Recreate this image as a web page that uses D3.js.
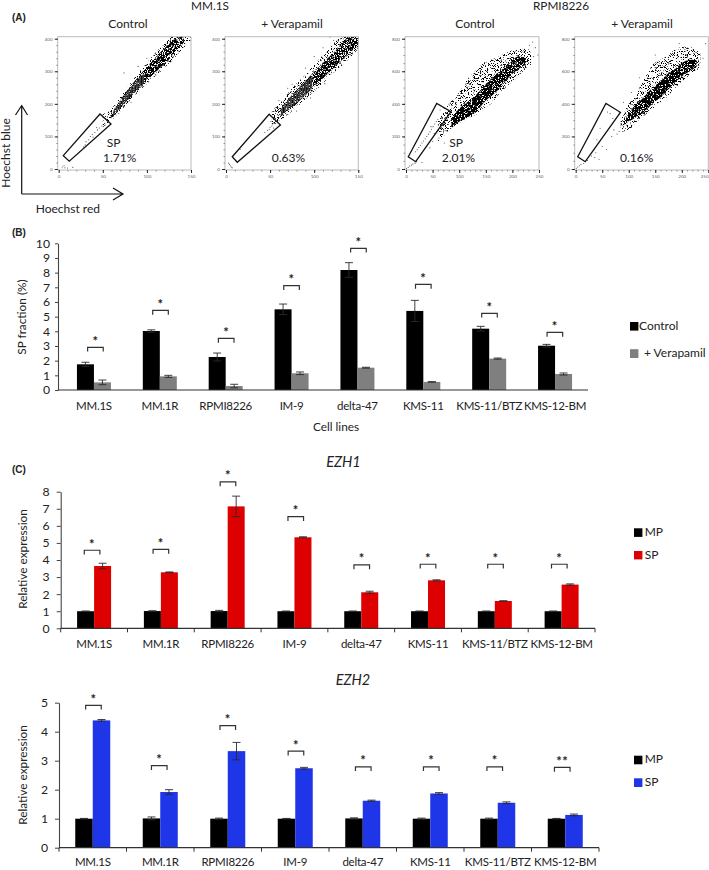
<!DOCTYPE html>
<html>
<head>
<meta charset="utf-8">
<script src="https://cdn.jsdelivr.net/npm/d3@7"></script>
<style>
  html, body { margin: 0; padding: 0; background: #fff; }
  svg { display: block; }
  text { font-family: Lato, "Open Sans", sans-serif; fill: #222; }
</style>
</head>
<body>
<svg id="chart" width="709" height="870"></svg>
<script>
const cellLines = ["MM.1S", "MM.1R", "RPMI8226", "IM-9", "delta-47", "KMS-11", "KMS-11/BTZ", "KMS-12-BM"];

// (B) SP fraction
const fractionControl    = [1.75, 4.02, 2.25, 5.5, 8.18, 5.39, 4.18, 3.02];
const fractionControlErr = [0.14, 0.08, 0.27, 0.36, 0.5, 0.72, 0.16, 0.09];
const fractionVera       = [0.52, 0.93, 0.27, 1.14, 1.52, 0.55, 2.14, 1.09];
const fractionVeraErr    = [0.16, 0.07, 0.12, 0.09, 0.03, 0.02, 0.04, 0.07];
const fractionBrackets   = [2.91, 5.43, 3.52, 7.11, 9.66, 7.2, 5.23, 3.93];
const fractionStars      = ["*", "*", "*", "*", "*", "*", "*", "*"];

// (C) EZH1
const ezh1Mp       = [1, 1.01, 1.01, 1, 1, 1, 1, 1];
const ezh1MpErr    = [0.01, 0.02, 0.04, 0.01, 0.01, 0.01, 0.01, 0.01];
const ezh1Sp       = [3.65, 3.28, 7.14, 5.33, 2.11, 2.81, 1.6, 2.56];
const ezh1SpErr    = [0.16, 0.02, 0.6, 0.03, 0.06, 0.03, 0.01, 0.04];
const ezh1Brackets = [4.57, 4.62, 8.57, 6.54, 3.71, 3.75, 3.75, 3.75];
const ezh1Stars    = ["*", "*", "*", "*", "*", "*", "*", "*"];

// EZH2
const ezh2Mp       = [1, 1.01, 1, 1, 1.01, 1, 1, 1];
const ezh2MpErr    = [0.01, 0.05, 0.02, 0.01, 0.02, 0.02, 0.02, 0.01];
const ezh2Sp       = [4.39, 1.92, 3.33, 2.74, 1.62, 1.87, 1.55, 1.13];
const ezh2SpErr    = [0.03, 0.08, 0.3, 0.03, 0.02, 0.03, 0.03, 0.03];
const ezh2Brackets = [4.91, 2.83, 4.21, 3.33, 2.79, 2.79, 2.79, 2.77];
const ezh2Stars    = ["*", "*", "*", "*", "*", "*", "*", "**"];

// (A) flow cytometry panels: cloud outlines as [x, low, high], gates and stray events
const mmXTicks = [0, 50, 100, 150];
const mmYTicks = [0, 100, 200, 300, 400];
const rpmiXTicks = [0, 50, 100, 150, 200, 250];
const rpmiYTicks = [0, 200, 400, 600, 800];

const mmCtrlCloud = [[50,128,168],[60,150,186],[70,178,222],[85,222,276],[100,262,326],[115,298,372],[130,336,412],[142,372,430],[151,400,440]];
const mmCtrlCore  = [[60,155,172],[70,186,212],[85,232,266],[100,272,314],[115,310,358],[130,350,396],[142,388,425]];
const mmCtrlBars  = [[60,157,170],[70,188,208],[85,234,262],[98,268,296]];
const mmCtrlGate  = [[5.2,41],[46.8,169],[59.3,138],[12,24]];
const mmCtrlDots  = [[4,6],[7,4],[10,3],[6,10],[16,5],[28,68],[30,74],[34,90],[36,100],[38,106],[41,112],[44,120],[46,126],[49,132],[52,140],[31,84],[39,98],[43,128],[55,148],[74,295],[78,240],[90,315],[68,170],[82,205],[95,255],[110,290],[124,330],[136,362],[100,340],[126,392],[75,205],[88,232]];

const mmVeraCloud = [[52,136,178],[62,150,205],[75,178,248],[90,214,290],[105,250,335],[120,290,378],[135,326,425],[151,372,440]];
const mmVeraCore  = [[62,160,186],[75,190,228],[90,226,270],[105,266,312],[120,304,352],[135,344,396],[151,380,420]];
const mmVeraBars  = [[62,162,184],[75,192,226],[88,222,264],[98,248,284]];
const mmVeraGate  = [[7.1,37.7],[48.9,167.9],[61.7,135],[12.8,20.6]];
const mmVeraDots  = [[4,14],[5,10],[6,6],[7,4],[3,18],[16,60],[50,128],[52,132],[53,138],[49,122],[47,118],[44,112],[54,126],[56,140],[51,146],[58,190],[70,248],[75,260],[60,210],[118,405],[122,395],[110,372],[100,345],[90,310],[130,400],[80,178],[96,218],[112,262],[128,312],[141,352],[142,410]];

const rpmiCtrlCloud = [[60,170,300],[70,200,350],[85,250,420],[100,280,470],[115,310,550],[130,330,600],[145,370,650],[160,400,670],[175,460,690],[190,510,715],[205,550,735],[220,600,740],[235,640,730]];
const rpmiCtrlCore  = [[85,250,300],[100,290,370],[115,315,410],[130,345,450],[150,420,520],[165,460,570],[180,510,610],[195,570,650],[210,610,690],[225,640,680]];
const rpmiCtrlGate  = [[4.3,75.5],[57.7,403],[84.6,352],[18.2,45]];
const rpmiCtrlDots  = [[1,2],[4,10],[7,18],[10,24],[13,30],[17,36],[20,44],[18,106],[21,118],[24,132],[27,146],[30,160],[33,172],[36,186],[39,200],[42,214],[45,228],[48,244],[51,260],[54,276],[57,292],[60,305],[47,260],[53,218],[64,362],[72,372],[238,780],[243,745],[248,700],[240,690],[232,760],[30,40],[45,130],[62,190],[72,160],[50,170]];

const rpmiVeraCloud = [[85,230,300],[100,240,400],[115,290,470],[130,330,560],[145,370,640],[160,410,670],[175,450,700],[190,500,740],[205,550,750],[220,590,745],[235,620,710]];
const rpmiVeraCore  = [[95,280,315],[110,310,385],[125,340,430],[145,400,500],[160,440,540],[175,490,590],[190,540,620],[205,580,660],[220,610,670],[228,630,660]];
const rpmiVeraGate  = [[3.8,75.5],[57,403],[84.3,348],[18,45]];
const rpmiVeraDots  = [[1,4],[4,12],[7,20],[10,28],[15,35],[22,52],[30,80],[38,100],[40,180],[46,250],[60,350],[65,340],[70,310],[72,240],[68,200],[78,215],[50,140],[58,120],[85,270],[82,350],[90,410],[105,470],[120,560],[150,700],[195,770],[245,770],[240,680],[36,70],[44,60],[82,230]];

const svg = d3.select("#chart");

const defs = svg.append("defs");

// grain for the event clouds, so a filled outline reads as scattered events
function grainFilter(id, seed, cut) {
  const f = defs.append("filter").attr("id", id)
    .attr("x", 0).attr("y", 0).attr("width", 1).attr("height", 1)
    .attr("color-interpolation-filters", "sRGB");
  f.append("feTurbulence")
    .attr("type", "fractalNoise").attr("baseFrequency", 1.3)
    .attr("numOctaves", 1).attr("seed", seed).attr("result", "n");
  f.append("feColorMatrix").attr("in", "n").attr("type", "matrix").attr("result", "g")
    .attr("values", `0 0 0 0 0 0 0 0 0 0 0 0 0 0 0 0 0 0 14 ${-14 * cut}`);
  f.append("feComposite").attr("in", "g").attr("in2", "SourceGraphic").attr("operator", "in");
}
grainFilter("grainSparse", 3, 0.55);
grainFilter("grainDense", 8, 0.44);
grainFilter("grainDark", 5, 0.39);

// the MM.1S events fall on discrete channels, hence the vertical stripes
defs.append("pattern").attr("id", "stripes")
    .attr("width", 2.9).attr("height", 4).attr("patternUnits", "userSpaceOnUse")
  .append("rect").attr("width", 1.7).attr("height", 4).attr("fill", "#444");

function drawFlowPanel(o) {
  const x = d3.scaleLinear().domain(o.xDomain).range(o.xRange);
  const y = d3.scaleLinear().domain(o.yDomain).range([169, 38.7]);
  const g = svg.append("g");

  const clipId = "clip" + o.id;
  defs.append("clipPath").attr("id", clipId)
    .append("rect").attr("x", o.xRange[0] - 1).attr("y", 36.7)
    .attr("width", o.xRange[1] - o.xRange[0] + 1).attr("height", 133);

  const area = d3.area().x(d => x(d[0])).y0(d => y(d[1])).y1(d => y(d[2])).curve(d3.curveCatmullRom);
  const clouds = g.append("g").attr("clip-path", `url(#${clipId})`);

  clouds.append("path").datum(o.cloud).attr("d", area).attr("fill", "#333").attr("filter", "url(#grainSparse)");
  clouds.append("path").datum(o.core).attr("d", area).attr("fill", "#111").attr("filter", `url(#${o.coreGrain})`);
  if (o.bars) {
    clouds.append("path").datum(o.bars).attr("d", area).attr("fill", "url(#stripes)");
  }
  clouds.selectAll("circle").data(o.dots).join("circle")
      .attr("cx", d => x(d[0])).attr("cy", d => y(d[1])).attr("r", 0.55)
      .attr("fill", "#444");

  // frame: grey on top and right
  g.append("path")
      .attr("d", `M${o.xRange[0] - 1},36.7H${o.xRange[1]}V170H${o.xRange[0] - 1}V36.7`)
      .attr("fill", "none").attr("stroke", "#aaa").attr("stroke-width", 0.8);

  const minorX = d3.axisBottom(x).ticks(o.xTicks.length * 5).tickSize(1.5).tickFormat("");
  const minorY = d3.axisLeft(y).ticks(20).tickSize(1.5).tickFormat("");
  g.append("g").attr("transform", "translate(0,170)").call(minorX).call(a => a.select(".domain").remove())
    .selectAll("line").attr("stroke", "#555").attr("stroke-width", 0.6);
  g.append("g").attr("transform", `translate(${o.xRange[0] - 1},0)`).call(minorY).call(a => a.select(".domain").remove())
    .selectAll("line").attr("stroke", "#555").attr("stroke-width", 0.6);

  const xAxis = d3.axisBottom(x).tickValues(o.xTicks).tickSize(3).tickPadding(2);
  const yAxis = d3.axisLeft(y).tickValues(o.yTicks).tickSize(3).tickPadding(2);
  for (const a of [
    g.append("g").attr("transform", "translate(0,170)").call(xAxis),
    g.append("g").attr("transform", `translate(${o.xRange[0] - 1},0)`).call(yAxis)
  ]) {
    a.select(".domain").remove();
    a.selectAll("line").attr("stroke", "#111").attr("stroke-width", 0.9);
    a.selectAll("text").attr("font-size", 4.6).style("fill", "#666").style("font-family", "Lato");
  }
  // the last label of the rightmost panel stays inside the page
  g.selectAll("g.tick text").filter(d => x(d) > 705).attr("text-anchor", "end");

  // gate polygon
  g.append("path").datum(o.gate)
      .attr("d", d3.line().x(d => x(d[0])).y(d => y(d[1])).curve(d3.curveLinearClosed))
      .attr("fill", "none").attr("stroke", "#111").attr("stroke-width", 1.3);
}

drawFlowPanel({ id: "a", xDomain: [0, 150], xRange: [58.7, 191], yDomain: [0, 400], xTicks: mmXTicks, yTicks: mmYTicks,
  cloud: mmCtrlCloud, core: mmCtrlCore, bars: mmCtrlBars, gate: mmCtrlGate, dots: mmCtrlDots, coreGrain: "grainDense" });
drawFlowPanel({ id: "b", xDomain: [0, 150], xRange: [226, 358.3], yDomain: [0, 400], xTicks: mmXTicks, yTicks: mmYTicks,
  cloud: mmVeraCloud, core: mmVeraCore, bars: mmVeraBars, gate: mmVeraGate, dots: mmVeraDots, coreGrain: "grainDense" });
drawFlowPanel({ id: "c", xDomain: [0, 250], xRange: [406, 539], yDomain: [0, 800], xTicks: rpmiXTicks, yTicks: rpmiYTicks,
  cloud: rpmiCtrlCloud, core: rpmiCtrlCore, gate: rpmiCtrlGate, dots: rpmiCtrlDots, coreGrain: "grainDark" });
drawFlowPanel({ id: "d", xDomain: [0, 250], xRange: [575.7, 708.3], yDomain: [0, 800], xTicks: rpmiXTicks, yTicks: rpmiYTicks,
  cloud: rpmiVeraCloud, core: rpmiVeraCore, gate: rpmiVeraGate, dots: rpmiVeraDots, coreGrain: "grainDark" });

function label(x, y, s, size, anchor, extra) {
  const t = svg.append("text").attr("x", x).attr("y", y).text(s)
    .attr("font-size", size).attr("text-anchor", anchor || "start");
  if (extra) extra(t);
  return t;
}
const panelTag = t => t.style("font-family", '"Liberation Sans", Arial, sans-serif').attr("font-weight", "bold");

label(12, 20.7, "(A)", 10, "start", panelTag);
label(12, 236, "(B)", 10, "start", panelTag);
label(12, 473, "(C)", 10, "start", panelTag);

label(210, 9.5, "MM.1S", 11.8, "middle");
label(561, 9.5, "RPMI8226", 11.8, "middle");
label(128, 28, "Control", 12, "middle");
label(292, 28, "+ Verapamil", 12, "middle");
label(475, 28, "Control", 12, "middle");
label(642, 28, "+ Verapamil", 12, "middle");

label(106.7, 147.3, "SP", 12);
label(103, 161.7, "1.71%", 12);
label(271.7, 161.7, "0.63%", 12);
label(449.3, 147.3, "SP", 12);
label(441.7, 161.7, "2.01%", 12);
label(620, 161.7, "0.16%", 12);

// Hoechst arrows
const arrows = "M21.7,194V106M15.5,115L21.7,105.5L27.5,115M21.7,194H122M113,188L123,194L113,200";
svg.append("path").attr("d", arrows).attr("fill", "none").attr("stroke", "#111").attr("stroke-width", 1.2);
label(35.7, 212.7, "Hoechst  red", 12);
label(0, 0, "Hoechst blue", 12, "middle", t => t.attr("transform", "translate(9.5,153) rotate(-90)"));

function drawBars(o) {
  const x = d3.scaleBand().domain(cellLines).range(o.xRange);
  const y = d3.scaleLinear().domain(o.yDomain).range(o.yRange);
  const half = o.barWidth;
  const center = d => x(d) + x.bandwidth() / 2;
  const g = svg.append("g");

  // paired bars, touching at the category centre
  const series = [
    { values: o.a, errs: o.aErr, color: o.aColor, dx: -half },
    { values: o.b, errs: o.bErr, color: o.bColor, dx: 0 }
  ];
  series.forEach(s => {
    const row = g.append("g");
    row.selectAll("rect").data(cellLines).join("rect")
        .attr("x", d => center(d) + s.dx)
        .attr("y", (d, i) => y(s.values[i]))
        .attr("width", half)
        .attr("height", (d, i) => y(0) - y(s.values[i]))
        .attr("fill", s.color);
    const mid = d => center(d) + s.dx + half / 2;
    row.selectAll("path").data(cellLines).join("path")
        .attr("d", (d, i) => {
          const hi = y(s.values[i] + s.errs[i]);
          const lo = y(s.values[i] - s.errs[i]);
          const c = mid(d);
          return `M${c - 4},${hi}H${c + 4}M${c},${hi}V${lo}M${c - 4},${lo}H${c + 4}`;
        })
        .attr("fill", "none").attr("stroke", "#2a2a2a").attr("stroke-width", 0.9);
  });

  // significance brackets
  g.selectAll("path.bracket").data(cellLines).join("path").attr("class", "bracket")
      .attr("d", (d, i) => {
        const c = center(d) + o.shift[i];
        const t = y(o.brackets[i]);
        return `M${c - 7.8},${t + 4.3}V${t}H${c + 7.8}V${t + 4.3}`;
      })
      .attr("fill", "none").attr("stroke", "#333").attr("stroke-width", 1.2);
  g.selectAll("text.star").data(cellLines).join("text").attr("class", "star")
      .attr("x", (d, i) => center(d) + o.shift[i])
      .attr("y", (d, i) => y(o.brackets[i]) - 1.5)
      .attr("text-anchor", "middle").attr("font-size", 13)
      .attr("font-weight", "bold")
      .style("letter-spacing", "0.5px")
      .text((d, i) => o.stars[i]);

  // axes
  const yAxis = g.append("g").attr("transform", `translate(${o.axisLeft},0)`)
    .call(d3.axisLeft(y).ticks(o.yDomain[1]).tickSize(o.tick).tickPadding(o.tickPad).tickSizeOuter(0));
  yAxis.select(".domain").attr("stroke", "#444").attr("stroke-width", 1.1);
  yAxis.selectAll("line").attr("stroke", "#444");
  yAxis.selectAll("text").attr("font-size", 12.2).style("font-family", "Lato");

  const xAxis = g.append("g").attr("transform", `translate(0,${y(0)})`)
    .call(d3.axisBottom(x).tickSize(0).tickPadding(o.labelPad));
  xAxis.select(".domain").remove();
  xAxis.selectAll("text").attr("font-size", 11.5).style("font-family", "Lato").style("letter-spacing", "-0.25px");

  g.append("line").attr("x1", o.axisLeft).attr("x2", o.xRange[1])
      .attr("y1", y(0)).attr("y2", y(0)).attr("stroke", "#333").attr("stroke-width", 1.2);

  if (o.edgeTicks) {
    g.selectAll("line.edge").data(d3.range(cellLines.length + 1)).join("line").attr("class", "edge")
        .attr("x1", i => o.xRange[0] + i * x.step()).attr("x2", i => o.xRange[0] + i * x.step())
        .attr("y1", y(0)).attr("y2", y(0) + 4)
        .attr("stroke", "#333").attr("stroke-width", 1);
  }

  label(0, 0, o.yLabel, 11.8, "middle", t => t.attr("transform", `translate(${o.yLabelX},${o.yLabelY}) rotate(-90)`));
}

function legendRow(x, y, h, color, textX, textY, s) {
  svg.append("rect").attr("x", x).attr("y", y).attr("width", 8.4).attr("height", h).attr("fill", color);
  label(textX, textY, s, 12);
}

drawBars({
  xRange: [61, 588], yDomain: [0, 10], yRange: [390, 243.3], axisLeft: 58, barWidth: 17,
  a: fractionControl, aErr: fractionControlErr, aColor: "#000",
  b: fractionVera, bErr: fractionVeraErr, bColor: "#7f7f7f",
  brackets: fractionBrackets, stars: fractionStars, shift: [1.5, 0.7, 0.5, 0, 1, 0, 0.3, -0.2],
  tick: 3, tickPad: 5, labelPad: 12, edgeTicks: false,
  yLabel: "SP fraction (%)", yLabelX: 26, yLabelY: 317
});
label(336, 431, "Cell lines", 11.8, "middle");
legendRow(630, 322, 8.6, "#000", 639, 329.5, "Control");
legendRow(630, 349.2, 8.8, "#7f7f7f", 644, 357, "+ Verapamil");

label(343.5, 467, "EZH1", 14.5, "middle", t => t.attr("font-style", "italic"));
drawBars({
  xRange: [60.7, 595], yDomain: [0, 8], yRange: [628.3, 491.7], axisLeft: 60.7, barWidth: 17,
  a: ezh1Mp, aErr: ezh1MpErr, aColor: "#000",
  b: ezh1Sp, bErr: ezh1SpErr, bColor: "#dc0000",
  brackets: ezh1Brackets, stars: ezh1Stars, shift: [-2, 0, 0.3, 1.3, 0.5, 0, 0.7, -2.3],
  tick: 4, tickPad: 7, labelPad: 12, edgeTicks: true,
  yLabel: "Relative expression", yLabelX: 26.5, yLabelY: 559
});
legendRow(634, 528.3, 8.6, "#000", 644.7, 536, "MP");
legendRow(634, 551, 8.4, "#dc0000", 644.7, 558.7, "SP");

label(353, 685, "EZH2", 14.5, "middle", t => t.attr("font-style", "italic"));
drawBars({
  xRange: [59, 599], yDomain: [0, 5], yRange: [847.7, 702.7], axisLeft: 59, barWidth: 17.5,
  a: ezh2Mp, aErr: ezh2MpErr, aColor: "#000",
  b: ezh2Sp, bErr: ezh2SpErr, bColor: "#1f35e8",
  brackets: ezh2Brackets, stars: ezh2Stars, shift: [0.7, -1, 0, 0.7, 0.5, 1, -3, -3],
  tick: 4, tickPad: 7, labelPad: 10, edgeTicks: true,
  yLabel: "Relative expression", yLabelX: 26.5, yLabelY: 775
});
legendRow(634, 755.7, 8.6, "#000", 644.7, 763, "MP");
legendRow(634, 778.3, 8.7, "#1f35e8", 644.7, 786, "SP");
</script>
</body>
</html>
